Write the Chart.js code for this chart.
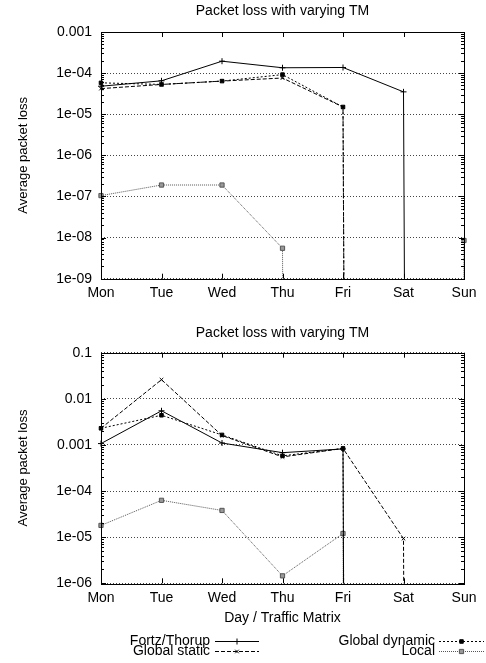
<!DOCTYPE html>
<html>
<head>
<meta charset="utf-8">
<script src="https://cdn.jsdelivr.net/npm/chart.js@4.4.1/dist/chart.umd.min.js"></script>
<style>
    body { margin: 0; background: #fff; }
    #topBox { position: absolute; left: 0; top: 0; width: 486px; height: 300px; }
    #bottomBox { position: absolute; left: 0; top: 300px; width: 486px; height: 363px; }
</style>
</head>
<body>
<div id="topBox"><canvas id="topChart"></canvas></div>
<div id="bottomBox"><canvas id="bottomChart"></canvas></div>
<script>
// Days / traffic matrices
const days = ["Mon", "Tue", "Wed", "Thu", "Fri", "Sat", "Sun"];
const seriesNames = ["Fortz/Thorup", "Global static", "Global dynamic", "Local"];

// no loss at all: the line runs straight off the bottom of the log axis
const NONE = 1e-300;

// Top chart values (average packet loss)
const topFortz   = [4.8e-5, 6.5e-5, 1.95e-4, 1.35e-4, 1.37e-4, 3.5e-5, NONE];
const topStatic  = [4.2e-5, 5.3e-5, 6.4e-5, 7.6e-5, 1.5e-5, NONE, NONE];
const topDynamic = [5.8e-5, 5.3e-5, 6.4e-5, 9.2e-5, 1.5e-5, NONE, NONE];
const topLocal   = [1.05e-7, 1.9e-7, 1.9e-7, 5.5e-9, NONE, NONE, 8.5e-9];

// Bottom chart values
const bottomFortz   = [1.07e-3, 5.5e-3, 1.1e-3, 6.8e-4, 8.2e-4, NONE, NONE];
const bottomStatic  = [2.3e-3, 2.6e-2, 1.6e-3, 5.5e-4, 8.4e-4, 9.3e-6, NONE];
const bottomDynamic = [2.3e-3, 4.4e-3, 1.65e-3, 5.8e-4, 8.4e-4, NONE, NONE];
const bottomLocal   = [1.8e-5, 6.3e-5, 3.8e-5, 1.45e-6, 1.2e-5, NONE, NONE];

// Tick values and labels
const topTickValues = [1e-9, 1e-8, 1e-7, 1e-6, 1e-5, 1e-4, 1e-3];
const topTickLabels = ["1e-09", "1e-08", "1e-07", "1e-06", "1e-05", "1e-04", "0.001"];
const bottomTickValues = [1e-6, 1e-5, 1e-4, 1e-3, 1e-2, 1e-1];
const bottomTickLabels = ["1e-06", "1e-05", "1e-04", "0.001", "0.01", "0.1"];

Chart.defaults.font.family = '"Liberation Sans", Arial, sans-serif';
Chart.defaults.font.size = 14;
Chart.defaults.color = "#000";

// line look per series (gnuplot style line types)
const seriesStyles = [
    { color: "#000", dash: [], point: "cross", radius: 3 },
    { color: "#000", dash: [4, 2], point: "crossRot", radius: 2.5 },
    { color: "#000", dash: [2, 2], point: "rect", radius: 2.5 },
    { color: "#555", dash: [1, 1], point: "rect", radius: 3 }
];

// Border box with inward major/minor ticks, like gnuplot
const framePlugin = {
    id: "frame",
    afterDatasetsDraw(chart) {
        const { ctx, chartArea: a, scales: { x, y } } = chart;
        ctx.save();
        ctx.strokeStyle = "#000";
        ctx.lineWidth = 1;
        ctx.setLineDash([]);
        ctx.beginPath();
        const lo = Math.round(Math.log10(y.min));
        const hi = Math.round(Math.log10(y.max));
        for (let e = lo; e <= hi; e++) {
            for (let k = 1; k <= 9; k++) {
                const v = k * Math.pow(10, e);
                if (v > y.max * 1.0001) break;
                const py = Math.round(y.getPixelForValue(v)) + 0.5;
                const len = k === 1 ? 5 : 3;
                ctx.moveTo(a.left, py); ctx.lineTo(a.left + len, py);
                ctx.moveTo(a.right, py); ctx.lineTo(a.right - len, py);
            }
        }
        x.ticks.forEach((t, i) => {
            const px = Math.round(x.getPixelForTick(i)) + 0.5;
            ctx.moveTo(px, a.bottom); ctx.lineTo(px, a.bottom - 5);
            ctx.moveTo(px, a.top); ctx.lineTo(px, a.top + 5);
        });
        ctx.stroke();
        ctx.strokeRect(Math.round(a.left) + 0.5, Math.round(a.top) + 0.5,
            Math.round(a.right - a.left), Math.round(a.bottom - a.top));
        ctx.restore();
    }
};

// Two column key under the lower chart
const keyPlugin = {
    id: "key",
    afterDraw(chart) {
        const ctx = chart.ctx;
        const rows = [chart.height - 22, chart.height - 12];
        const cols = [{ textX: 210, x0: 215, x1: 259 }, { textX: 435, x0: 439, x1: 484 }];
        ctx.save();
        ctx.font = '14px "Liberation Sans", Arial, sans-serif';
        ctx.textAlign = "right";
        ctx.textBaseline = "middle";
        chart.data.datasets.forEach((ds, i) => {
            const col = cols[Math.floor(i / 2)];
            const yy = rows[i % 2];
            ctx.fillStyle = "#000";
            ctx.fillText(ds.label, col.textX, yy);
            ctx.strokeStyle = ds.borderColor;
            ctx.lineWidth = 1;
            ctx.setLineDash(ds.borderDash);
            ctx.beginPath();
            ctx.moveTo(col.x0, Math.round(yy) + 0.5);
            ctx.lineTo(col.x1, Math.round(yy) + 0.5);
            ctx.stroke();
            ctx.setLineDash([]);
            ctx.fillStyle = ds.pointBackgroundColor;
            Chart.helpers.drawPoint(ctx, {
                pointStyle: ds.pointStyle, radius: ds.pointRadius, borderWidth: 1, rotation: 0
            }, (col.x0 + col.x1) / 2, Math.round(yy) + 0.5);
        });
        ctx.restore();
    }
};

const makeDatasets = (seriesValues) => seriesValues.map((data, i) => ({
    label: seriesNames[i],
    data: data,
    borderColor: seriesStyles[i].color,
    borderWidth: 1,
    borderDash: seriesStyles[i].dash,
    pointStyle: seriesStyles[i].point,
    pointRadius: seriesStyles[i].radius,
    pointBorderWidth: 1,
    pointBorderColor: seriesStyles[i].color,
    pointBackgroundColor: i === 3 ? "#999" : "#000",
    fill: false,
    tension: 0
}));

const createLossChart = (elementId, seriesValues, tickValues, tickLabels, opts) => {
    var ctx = document.getElementById(elementId).getContext("2d");
    return new Chart(ctx, {
        type: "line",
        data: { labels: days, datasets: makeDatasets(seriesValues) },
        plugins: opts.plugins,
        options: {
            responsive: true,
            maintainAspectRatio: false,
            animation: false,
            events: [],
            layout: { padding: { left: 0, right: 22, top: 0, bottom: opts.bottomPad } },
            plugins: {
                legend: { display: false },
                tooltip: { enabled: false },
                title: {
                    display: true,
                    fullSize: false,
                    text: "Packet loss with varying TM",
                    color: "#000",
                    font: { size: 14, weight: "normal" },
                    padding: opts.titlePad
                }
            },
            scales: {
                x: {
                    type: "category",
                    offset: false,
                    grid: { display: false, drawTicks: false },
                    border: { display: false },
                    ticks: { padding: 6, maxRotation: 0, autoSkip: false, color: "#000" },
                    title: {
                        display: !!opts.xTitle,
                        text: opts.xTitle || "",
                        color: "#000",
                        font: { size: 14 },
                        padding: { top: 4, bottom: 6.6 }
                    },
                    afterFit: (scale) => { scale.height = opts.xHeight; }
                },
                y: {
                    type: "logarithmic",
                    min: tickValues[0],
                    max: tickValues[tickValues.length - 1],
                    grid: { color: "#444", lineWidth: 1, drawTicks: false },
                    border: { display: false, dash: [1, 2] },
                    afterBuildTicks: (scale) => {
                        scale.ticks = tickValues.map(v => ({ value: v }));
                    },
                    ticks: {
                        padding: 9,
                        autoSkip: false,
                        color: "#000",
                        callback: (value, index) => tickLabels[index]
                    },
                    title: {
                        display: true,
                        text: "Average packet loss",
                        color: "#000",
                        font: { size: 13 },
                        padding: { top: 16, bottom: 0 }
                    },
                    afterFit: (scale) => { scale.width = 101; }
                }
            }
        }
    });
};

createLossChart("topChart", [topFortz, topStatic, topDynamic, topLocal],
    topTickValues, topTickLabels,
    { titlePad: { top: 3, bottom: 12.2 }, xHeight: 21.3, bottomPad: 0, plugins: [framePlugin] });

createLossChart("bottomChart", [bottomFortz, bottomStatic, bottomDynamic, bottomLocal],
    bottomTickValues, bottomTickLabels,
    { titlePad: { top: 24.6, bottom: 11.3 }, xHeight: 49.7, bottomPad: 30,
      xTitle: "Day / Traffic Matrix", plugins: [framePlugin, keyPlugin] });
</script>
</body>
</html>
